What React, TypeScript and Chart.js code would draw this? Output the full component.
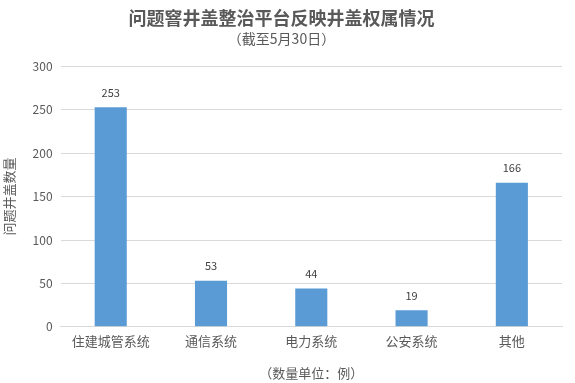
import React, { useEffect, useRef } from "react";
import { Chart, registerables } from "chart.js";

Chart.register(...registerables);

const categories = ["住建城管系统", "通信系统", "电力系统", "公安系统", "其他"];
const counts = [253, 53, 44, 19, 166];
const yTicks = [0, 50, 100, 150, 200, 250, 300];

const FONT = "'Noto Sans CJK SC', 'Noto Sans', sans-serif";

const labelPlugin = {
  id: "barLabels",
  afterDatasetsDraw(chart: any) {
    const ctx = chart.ctx;
    const meta = chart.getDatasetMeta(0);
    ctx.save();
    ctx.font = `11px ${FONT}`;
    ctx.fillStyle = "#404040";
    ctx.textAlign = "center";
    ctx.textBaseline = "bottom";
    meta.data.forEach((el: any, i: number) => {
      ctx.fillText(String(counts[i]), el.x, el.y - 9);
    });
    ctx.restore();
  },
};

export default function App() {
  const ref = useRef<HTMLCanvasElement>(null);
  useEffect(() => {
    if (!ref.current) return;
    const chart = new Chart(ref.current, {
      type: "bar",
      data: {
        labels: categories,
        datasets: [
          {
            data: counts,
            backgroundColor: "#5B9BD5",
            barPercentage: 0.32,
            categoryPercentage: 1,
          },
        ],
      },
      options: {
        animation: false,
        responsive: false,
        maintainAspectRatio: false,
        layout: { padding: { left: 1, right: 13, top: 0, bottom: 2 } },
        plugins: {
          legend: { display: false },
          tooltip: { enabled: false },
          title: {
            display: true,
            text: "问题窨井盖整治平台反映井盖权属情况",
            color: "#595959",
            font: { family: FONT, size: 18, weight: "bold" },
            padding: { top: 7, bottom: 2 },
          },
          subtitle: {
            display: true,
            text: "（截至5月30日）",
            color: "#595959",
            font: { family: FONT, size: 14 },
            padding: { top: 0, bottom: 19 },
          },
        },
        scales: {
          x: {
            grid: { display: false, drawTicks: false },
            border: { display: true, color: "#d9d9d9" },
            ticks: { color: "#595959", font: { family: FONT, size: 13 }, padding: 6 },
            title: {
              display: true,
              text: "（数量单位：例）",
              color: "#595959",
              font: { family: FONT, size: 13 },
              padding: { top: 11, bottom: 0 },
            },
          },
          y: {
            min: 0,
            max: 300,
            afterBuildTicks: (axis: any) => {
              axis.ticks = yTicks.map((v) => ({ value: v }));
            },
            grid: { color: "#d9d9d9", drawTicks: false },
            border: { display: false },
            ticks: { color: "#595959", font: { family: FONT, size: 12 }, padding: 8 },
            title: {
              display: true,
              text: "问题井盖数量",
              color: "#595959",
              font: { family: FONT, size: 13 },
              padding: { top: 0, bottom: 8 },
            },
          },
        },
      },
      plugins: [labelPlugin],
    });
    return () => chart.destroy();
  }, []);
  return (
    <div style={{ position: "fixed", left: 0, top: 0, width: 575, height: 383, background: "#fff" }}>
      <canvas ref={ref} width={575} height={383} />
    </div>
  );
}
